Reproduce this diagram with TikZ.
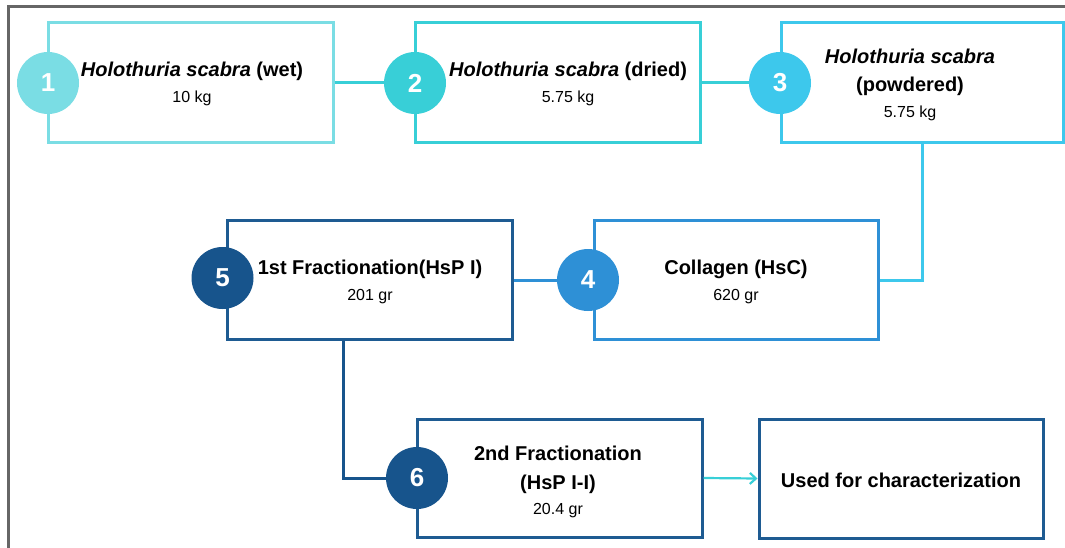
\documentclass[tikz,border=0pt]{standalone}
\usepackage{fontspec}
\setmainfont{Liberation Sans}
\usetikzlibrary{arrows.meta}

\definecolor{cOne}{HTML}{7ADDE4}
\definecolor{cTwo}{HTML}{38CFD7}
\definecolor{cThree}{HTML}{3DC8EC}
\definecolor{cFour}{HTML}{2E90D6}
\definecolor{cDark}{HTML}{17548C}
\definecolor{cDarkBox}{HTML}{1E5B92}
\definecolor{frameGray}{HTML}{666666}

\tikzset{
  stagebox/.style={draw=#1, line width=3pt, fill=white, rectangle, inner sep=0pt},
  badge/.style={circle, fill=#1, draw=none, minimum size=62pt, inner sep=0pt,
                text=white, font=\bfseries\fontsize{26}{30}\selectfont},
  label/.style={align=center, inner sep=0pt, font=\bfseries\fontsize{20}{28.5}\selectfont},
  link/.style={draw=#1, line width=3pt}
}
\newcommand{\wtext}[1]{{\mdseries\fontsize{16}{26}\selectfont #1}}

\begin{document}
\begin{tikzpicture}[x=1pt, y=-1pt]
  \useasboundingbox (0,0) rectangle (1065,548);

  % outer frame (top and left edges)
  \draw[frameGray, line width=2.5pt] (8.5,548) -- (8.5,6.5) -- (1065,6.5);

  % stage boxes
  \node[stagebox=cOne, minimum width=285pt, minimum height=120pt] (b1) at (190.5,83) {};
  \node[stagebox=cTwo, minimum width=285pt, minimum height=120pt] (b2) at (557.5,83) {};
  \node[stagebox=cThree, minimum width=282pt, minimum height=120pt] (b3) at (922,83) {};
  \node[stagebox=cFour, minimum width=284pt, minimum height=119pt] (b4) at (736,280) {};
  \node[stagebox=cDarkBox, minimum width=285pt, minimum height=119pt] (b5) at (369.5,280) {};
  \node[stagebox=cDarkBox, minimum width=285pt, minimum height=118pt] (b6) at (559.5,478) {};
  \node[stagebox=cDarkBox, minimum width=284pt, minimum height=119pt] (b7) at (901,478.5) {};

  % numbered badges
  \node[badge=cOne]   (n1) at (48,83) {1};
  \node[badge=cTwo]   (n2) at (415,83) {2};
  \node[badge=cThree] (n3) at (780,83) {3};
  \node[badge=cFour]  (n4) at (588,280) {4};
  \node[badge=cDark]  (n5) at (222.5,278) {5};
  \node[badge=cDark]  (n6) at (417,478) {6};

  % box texts
  \node[label] (t1) at (192,84) {\textit{Holothuria scabra} (wet)\\[-3pt] \wtext{10 kg}};
  \node[label] (t2) at (568,84) {\textit{Holothuria scabra} (dried)\\[-3pt] \wtext{5.75 kg}};
  \node[label] (t3) at (910,84.5) {\textit{Holothuria scabra}\\(powdered)\\[-3pt] \wtext{5.75 kg}};
  \node[label] (t4) at (736,282) {Collagen (HsC)\\[-3pt] \wtext{620 gr}};
  \node[label] (t5) at (370,282) {1st Fractionation(HsP I)\\[-3pt] \wtext{201 gr}};
  \node[label] (t6) at (558,482) {2nd Fractionation\\(HsP I-I)\\[-3pt] \wtext{20.4 gr}};
  \node[label] (t7) at (901,480) {Used for characterization};

  % connectors
  \draw[link=cTwo] (b1.east) -- (n2.west);
  \draw[link=cTwo] (b2.east) -- (n3.west);
  \draw[link=cThree] (b3.south) |- (b4.east);
  \draw[link=cFour] (n4.west) -- (b5.east);
  \draw[link=cDark] ([xshift=-26.5pt]b5.south) |- (n6.west);
  \draw[draw=cTwo, line width=2.2pt, -{Straight Barb[length=6pt, width=11pt]}] (b6.east) -- (b7.west);
\end{tikzpicture}
\end{document}
